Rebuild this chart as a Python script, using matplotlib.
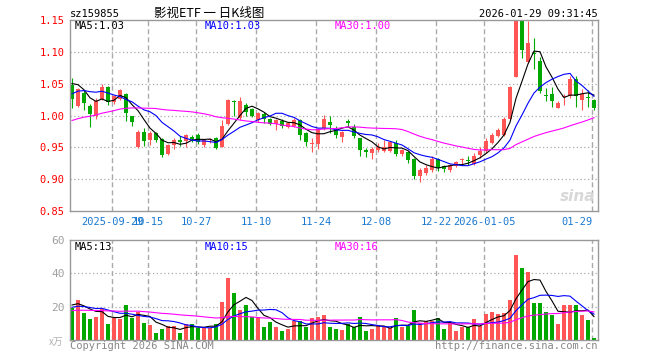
import matplotlib.pyplot as plt
import numpy as np
import pandas as pd

W, H = 660, 360

# daily candles, 2025-09-18 .. 2026-01-29 (88 sessions)
opens = [1.048, 1.015, 1.035, 1.015, 1.000, 1.026, 1.045, 1.021, 1.026, 1.034,
         0.999, 0.950, 0.974, 0.961, 0.972, 0.963, 0.940, 0.953, 0.962, 0.960,
         0.967, 0.969, 0.954, 0.961, 0.964, 0.951, 0.987, 1.023, 0.996, 1.017,
         1.010, 0.993, 1.003, 0.995, 0.987, 0.991, 0.982, 0.983, 0.993, 0.973,
         0.955, 0.956, 0.980, 0.990, 0.978, 0.967, 0.990, 0.982, 0.964, 0.946,
         0.941, 0.946, 0.944, 0.944, 0.957, 0.939, 0.943, 0.931, 0.905, 0.909,
         0.915, 0.931, 0.920, 0.915, 0.921, 0.930, 0.930, 0.924, 0.938, 0.944,
         0.957, 0.968, 0.970, 0.995, 1.061, 1.148, 1.084, 1.098, 1.086, 1.031,
         1.033, 1.012, 1.029, 1.030, 1.058, 1.024, 1.028, 1.024]
highs = [1.059, 1.043, 1.040, 1.018, 1.028, 1.050, 1.046, 1.032, 1.042, 1.036,
         1.000, 0.978, 0.981, 0.975, 0.974, 0.965, 0.955, 0.964, 0.968, 0.971,
         0.970, 0.972, 0.963, 0.965, 0.966, 0.993, 1.026, 1.024, 1.029, 1.019,
         1.012, 1.006, 1.005, 0.996, 0.995, 0.994, 0.990, 0.996, 0.995, 0.974,
         0.965, 0.980, 1.001, 1.000, 0.983, 0.975, 0.995, 0.987, 0.965, 0.949,
         0.950, 0.957, 0.961, 0.960, 0.961, 0.948, 0.945, 0.933, 0.917, 0.922,
         0.936, 0.934, 0.923, 0.924, 0.929, 0.934, 0.936, 0.941, 0.950, 0.965,
         0.972, 0.981, 0.998, 1.046, 1.149, 1.150, 1.148, 1.121, 1.092, 1.043,
         1.045, 1.022, 1.033, 1.062, 1.062, 1.042, 1.040, 1.026]
lows = [1.012, 1.013, 1.008, 0.982, 0.994, 1.024, 1.017, 1.018, 1.024, 0.991,
        0.984, 0.949, 0.952, 0.953, 0.958, 0.935, 0.938, 0.948, 0.952, 0.951,
        0.958, 0.955, 0.951, 0.957, 0.948, 0.950, 0.985, 1.000, 0.993, 1.000,
        0.997, 0.990, 0.989, 0.985, 0.977, 0.981, 0.980, 0.982, 0.962, 0.952,
        0.942, 0.948, 0.978, 0.973, 0.965, 0.958, 0.983, 0.965, 0.937, 0.935,
        0.932, 0.943, 0.942, 0.942, 0.936, 0.936, 0.926, 0.900, 0.895, 0.906,
        0.912, 0.913, 0.912, 0.911, 0.919, 0.924, 0.923, 0.922, 0.934, 0.941,
        0.955, 0.966, 0.968, 0.993, 1.060, 1.091, 1.083, 1.073, 1.035, 1.022,
        1.013, 1.011, 1.016, 1.028, 1.014, 1.008, 1.013, 1.008]
closes = [1.026, 1.041, 1.020, 1.002, 1.022, 1.045, 1.021, 1.030, 1.040, 1.004,
          0.990, 0.974, 0.960, 0.973, 0.962, 0.938, 0.953, 0.962, 0.959, 0.970,
          0.963, 0.959, 0.961, 0.962, 0.949, 0.983, 1.025, 1.021, 1.022, 1.005,
          1.000, 1.004, 0.995, 0.987, 0.993, 0.983, 0.988, 0.993, 0.969, 0.959,
          0.956, 0.979, 0.994, 0.985, 0.969, 0.974, 0.989, 0.968, 0.946, 0.942,
          0.948, 0.950, 0.951, 0.958, 0.939, 0.946, 0.930, 0.905, 0.915, 0.918,
          0.931, 0.918, 0.916, 0.922, 0.927, 0.931, 0.929, 0.936, 0.945, 0.960,
          0.969, 0.978, 0.995, 1.044, 1.149, 1.103, 1.114, 1.096, 1.039, 1.030,
          1.022, 1.020, 1.030, 1.058, 1.030, 1.033, 1.027, 1.012]
volumes = [19, 24, 16.4, 12.6, 13.8, 18.4, 9.6, 13, 12.6, 21,
           13.4, 16.8, 10.2, 9, 4.2, 6.6, 8.4, 8.4, 4.2, 9.6,
           9.6, 7.4, 7.4, 7.4, 9.6, 23, 37.4, 28.4, 18, 21,
           13.6, 13.6, 7.8, 10.8, 7.8, 5.6, 6.6, 11.4, 11.4, 8,
           13.2, 13.8, 15, 7.8, 6.6, 6, 9.6, 7.8, 13.8, 5.4,
           6.6, 8.4, 7.8, 7.2, 13.2, 7.8, 8.4, 18, 10.2, 11.4,
           11.4, 13.2, 6.6, 10.2, 5.4, 7.8, 7.8, 12.6, 8.4, 15.8,
           16.8, 15.6, 16.2, 24, 51, 43.2, 40.8, 22.4, 22.4, 16.8,
           15, 9.6, 21, 21, 21, 15, 12, 1.2]

# sessions before the window (estimated from where the MA lines start)
pre_close = [0.955, 0.950, 0.958, 0.962, 0.960, 0.965, 0.968, 0.963, 0.970, 0.972,
             0.975, 0.970, 0.978, 0.975, 0.980, 0.982, 0.978, 0.985, 0.988, 0.990,
             1.00, 1.01, 1.02, 1.03, 1.03, 1.05, 1.06, 1.065, 1.05]
pre_volume = [15, 18, 14, 17, 19, 16, 15, 18, 17, 16, 15, 19, 17, 16, 18, 15, 17, 16, 18, 16,
              17, 19, 18, 20, 17, 20, 23, 22, 21]

date_pos = [7, 13, 21, 31, 41, 51, 61, 69, 87]
date_labels = ['2025-09-29', '10-15', '10-27', '11-10', '11-24', '12-08', '12-22', '2026-01-05', '01-29']
price_ticks = [0.85, 0.90, 0.95, 1.00, 1.05, 1.10, 1.15]
vol_ticks = [20, 40, 60]
ma_windows = [5, 10, 30]
ma_colors = ['black', '#0000ff', '#ff00ff']
ma_price_text = ['1.03', '1.03', '1.00']
ma_vol_text = ['13', '15', '16']

RED = '#ff5555'
GREEN = '#00a800'
GRID = '#aaaaaa'
MONO = 'DejaVu Sans Mono'


def fx(px):
    return px / W


def fy(py):
    return 1 - py / H


fig = plt.figure(figsize=(W / 100, H / 100), dpi=100)
ax = fig.add_axes([fx(70), fy(211), 528 / W, 191 / H])
vax = fig.add_axes([fx(70), fy(340), 528 / W, 100 / H])

x = np.arange(len(closes))
o = np.array(opens)
c = np.array(closes)
colors = np.where(c >= o, RED, GREEN)

# candles
ax.vlines(x, lows, highs, colors=colors, lw=0.8)
ax.bar(x, np.maximum(np.abs(c - o), 0.0016), width=0.8, bottom=np.minimum(o, c),
       color=colors, linewidth=0)

# volume
vax.bar(x, volumes, width=0.8, color=colors, linewidth=0)

n_pre = len(pre_close)
c_all = pd.Series(pre_close + closes)
v_all = pd.Series(pre_volume + volumes)
for w, col in zip(ma_windows, ma_colors):
    ax.plot(x, c_all.rolling(w).mean().values[n_pre:], color=col, lw=0.8)
    vax.plot(x, v_all.rolling(w).mean().values[n_pre:], color=col, lw=0.8)

grid_x = [p - 0.3 for p in date_pos]
for a in (ax, vax):
    a.set_xlim(-1 / 3, 87 + 2 / 3)
    for s in a.spines.values():
        s.set_color('#999999')
        s.set_linewidth(1)
    for gx in grid_x:
        a.axvline(gx, color=GRID, lw=1, ls=(0, (3.6, 2.2)), zorder=0)
    a.tick_params(length=0)

ax.set_ylim(0.85, 1.15)
ax.set_yticks(price_ticks)
ax.set_yticklabels(['%.2f' % t for t in price_ticks], color='#ff0000',
                   fontfamily=MONO, fontsize=7.5)
for t in price_ticks[1:-1]:
    ax.axhline(t, color=GRID, lw=0.9, ls=(0, (1, 2)), zorder=0)
ax.set_xticks(grid_x)
ax.set_xticklabels(date_labels, color='#1a78d0', fontfamily=MONO, fontsize=7.5)
ax.tick_params(axis='x', pad=4)
ax.tick_params(axis='y', pad=4)
ax.get_xticklabels()[-1].set_horizontalalignment('right')

vax.set_ylim(0, 60)
vax.set_yticks(vol_ticks)
vax.set_yticklabels([str(t) for t in vol_ticks], color='#a0a0a0',
                    fontfamily=MONO, fontsize=8)
vax.tick_params(axis='y', pad=4)
vax.set_xticks([])
for t in vol_ticks[:-1]:
    vax.axhline(t, color=GRID, lw=0.9, ls=(0, (1, 2)), zorder=0)

# MA captions
for k, col in enumerate(ma_colors):
    lx = fx(75 + 130 * k)
    fig.text(lx, fy(29), 'MA%d:%s' % (ma_windows[k], ma_price_text[k]), color=col,
             fontfamily=MONO, fontsize=7.5, va='baseline')
    fig.text(lx, fy(250), 'MA%d:%s' % (ma_windows[k], ma_vol_text[k]), color=col,
             fontfamily=MONO, fontsize=7.5, va='baseline')

# header
fig.text(fx(70), fy(17), 'sz159855', fontfamily=MONO, fontsize=7.5, va='baseline')
fig.text(fx(209), fy(17), '影视ETF 一 日K线图', family=['Noto Sans CJK SC', 'DejaVu Sans'],
         fontsize=9, ha='center', va='baseline')
fig.text(fx(598), fy(17), '2026-01-29 09:31:45', fontfamily=MONO, fontsize=7.5,
         ha='right', va='baseline')

# footer
fig.text(fx(70), fy(349), 'Copyright 2026 SINA.COM', color='#888888', fontfamily=MONO,
         fontsize=7.5, va='baseline')
fig.text(fx(598), fy(349), 'http://finance.sina.com.cn', color='#888888', fontfamily=MONO,
         fontsize=7.5, ha='right', va='baseline')
fig.text(fx(63), fy(345), 'x万', color='#b0b0b0', family=['Noto Sans CJK SC', 'DejaVu Sans'],
         fontsize=7, ha='right', va='baseline')

# watermark
fig.text(fx(595), fy(201), 'sina', color='#d8d8d8', fontsize=11, fontweight='bold',
         fontstyle='italic', ha='right', va='baseline')

fig.savefig('out.png', dpi=100)
